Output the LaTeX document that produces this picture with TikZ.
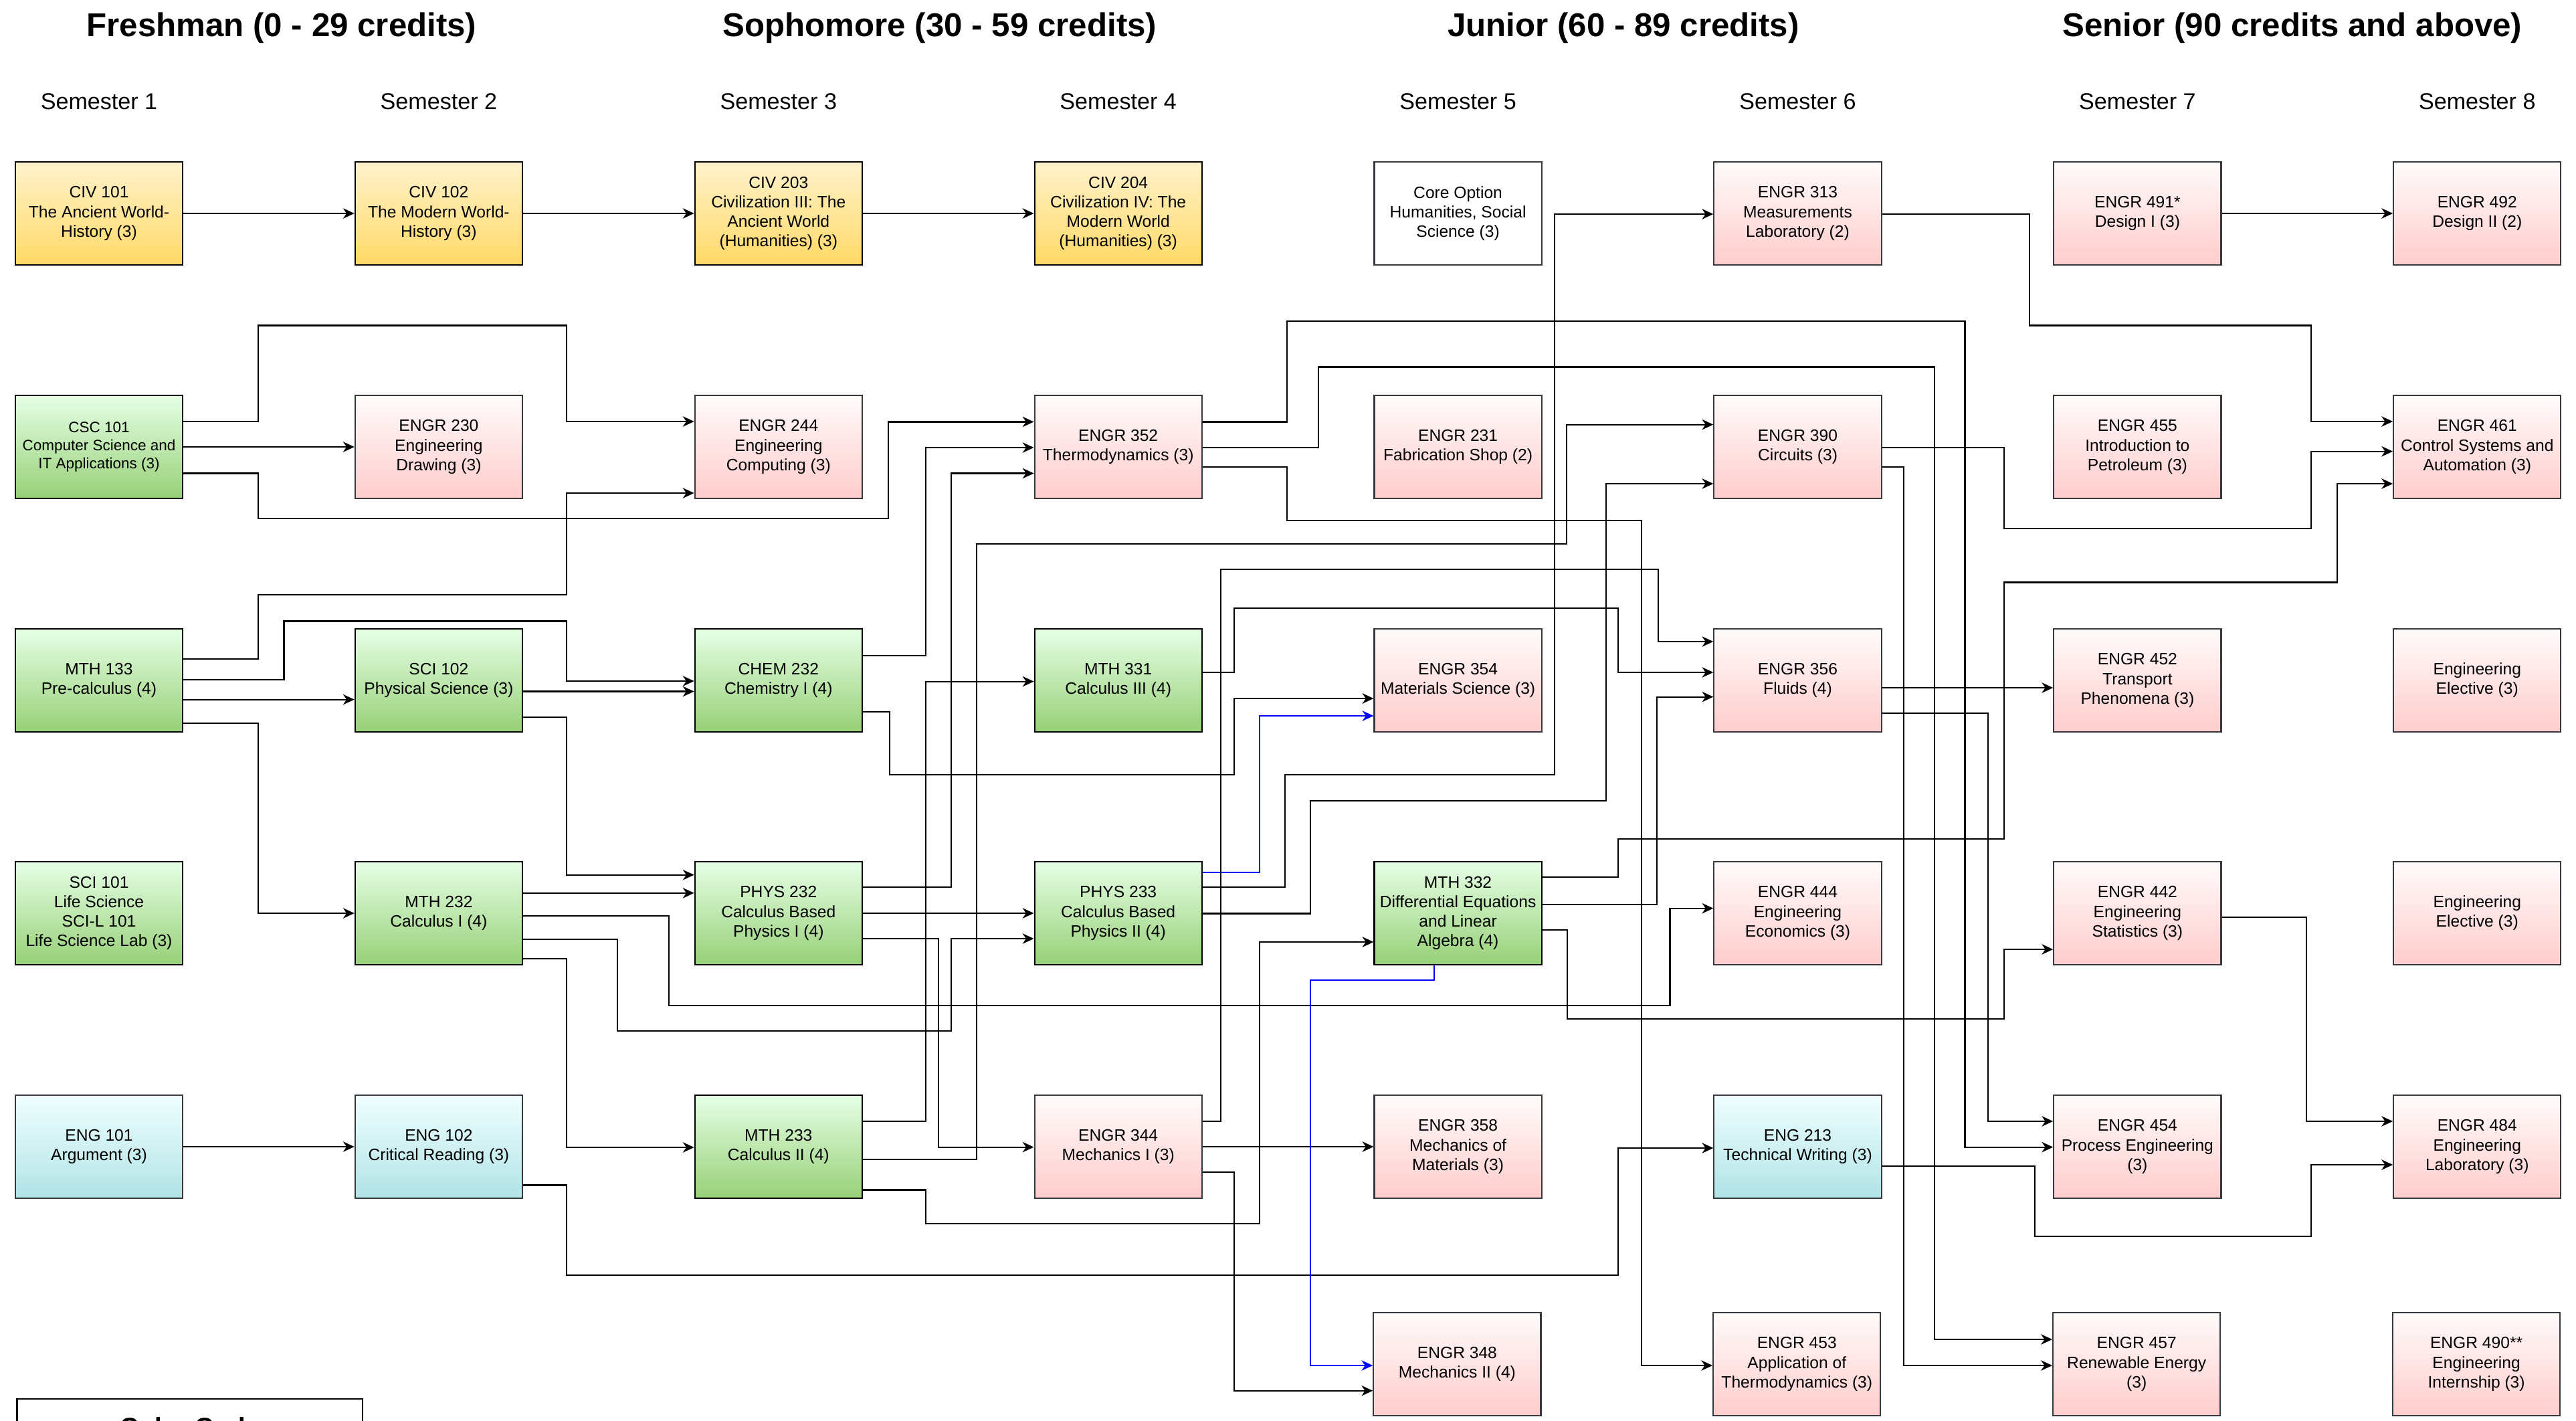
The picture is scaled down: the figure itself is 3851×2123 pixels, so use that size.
\documentclass[tikz,border=0pt]{standalone}
\usepackage{fontspec}
\setmainfont{Liberation Sans}
\usepackage{tikz}
\usetikzlibrary{arrows.meta,positioning}

\definecolor{civtop}{HTML}{FFF2CC}
\definecolor{civbot}{HTML}{FFD966}
\definecolor{scitop}{HTML}{E6FFE6}
\definecolor{scibot}{HTML}{97D077}
\definecolor{engrtop}{HTML}{FFFBFB}
\definecolor{engrbot}{HTML}{FFCCCC}
\definecolor{engtop}{HTML}{F0FFFF}
\definecolor{engbot}{HTML}{B0E3E6}
\definecolor{boxline}{HTML}{36393D}

\tikzset{
  course/.style={rectangle, draw=boxline, minimum width=2.5cm, minimum height=1.54cm,
                 inner sep=1pt, align=center, font=\fontsize{7}{8.3}\selectfont},
  civ/.style={course, draw=black, top color=civtop, bottom color=civbot},
  sci/.style={course, draw=black, top color=scitop, bottom color=scibot},
  engr/.style={course, top color=engrtop, bottom color=engrbot},
  eng/.style={course, top color=engtop, bottom color=engbot},
  core/.style={course, fill=white},
  year/.style={font=\fontsize{14}{17}\selectfont\bfseries},
  sem/.style={font=\fontsize{9.7}{11.6}\selectfont}
}

\begin{document}
\begin{tikzpicture}[->,>={Stealth[length=4.8pt,width=4.4pt,inset=1.5pt]},
                    line width=0.6pt,x=0.01cm,y=-0.01cm,node distance=5.076cm]
  \useasboundingbox (0,0) rectangle (3851,2123);
  \clip (0,0) rectangle (3851,2123);

  \node[year] (fresh)  at (421,41.5)  {Freshman (0 - 29 credits)};
  \node[year] (soph)   at (1405,41.5) {Sophomore (30 - 59 credits)};
  \node[year] (junior) at (2427,41.5) {Junior (60 - 89 credits)};
  \node[year] (senior) at (3427,41.5) {Senior (90 credits and above)};

  \node[sem] (S1) at (148,151.5) {Semester 1};
  \node[sem] (S2) [right of=S1] {Semester 2};
  \node[sem] (S3) [right of=S2] {Semester 3};
  \node[sem] (S4) [right of=S3] {Semester 4};
  \node[sem] (S5) [right of=S4] {Semester 5};
  \node[sem] (S6) [right of=S5] {Semester 6};
  \node[sem] (S7) [right of=S6] {Semester 7};
  \node[sem] (S8) [right of=S7] {Semester 8};

  \node[civ]  (CIV101) at (148,319)       {CIV 101\\The Ancient World-\\History (3)};
  \node[civ]  (CIV102) [right of=CIV101]  {CIV 102\\The Modern World-\\History (3)};
  \node[civ]  (CIV203) [right of=CIV102]  {CIV 203\\Civilization III: The\\Ancient World\\(Humanities) (3)};
  \node[civ]  (CIV204) [right of=CIV203]  {CIV 204\\Civilization IV: The\\Modern World\\(Humanities) (3)};
  \node[core] (CORE)   [right of=CIV204]  {Core Option\\Humanities, Social\\Science (3)};
  \node[engr] (ENGR313) [right of=CORE]   {ENGR 313\\Measurements\\Laboratory (2)};
  \node[engr] (ENGR491) [right of=ENGR313] {ENGR 491*\\Design I (3)};
  \node[engr] (ENGR492) [right of=ENGR491] {ENGR 492\\Design II (2)};

  \node[sci,font=\fontsize{6.4}{7.7}\selectfont] (CSC101) at (148,668)
                                           {CSC 101\\Computer Science and\\IT Applications (3)};
  \node[engr] (ENGR230) [right of=CSC101]  {ENGR 230\\Engineering\\Drawing (3)};
  \node[engr] (ENGR244) [right of=ENGR230] {ENGR 244\\Engineering\\Computing (3)};
  \node[engr] (ENGR352) [right of=ENGR244] {ENGR 352\\Thermodynamics (3)};
  \node[engr] (ENGR231) [right of=ENGR352] {ENGR 231\\Fabrication Shop (2)};
  \node[engr] (ENGR390) [right of=ENGR231] {ENGR 390\\Circuits (3)};
  \node[engr] (ENGR455) [right of=ENGR390] {ENGR 455\\Introduction to\\Petroleum (3)};
  \node[engr] (ENGR461) [right of=ENGR455] {ENGR 461\\Control Systems and\\Automation (3)};

  \node[sci]  (MTH133)  at (148,1017)      {MTH 133\\Pre-calculus (4)};
  \node[sci]  (SCI102)  [right of=MTH133]  {SCI 102\\Physical Science (3)};
  \node[sci]  (CHEM232) [right of=SCI102]  {CHEM 232\\Chemistry I (4)};
  \node[sci]  (MTH331)  [right of=CHEM232] {MTH 331\\Calculus III (4)};
  \node[engr] (ENGR354) [right of=MTH331]  {ENGR 354\\Materials Science (3)};
  \node[engr] (ENGR356) [right of=ENGR354] {ENGR 356\\Fluids (4)};
  \node[engr] (ENGR452) [right of=ENGR356] {ENGR 452\\Transport\\Phenomena (3)};
  \node[engr] (ELECA)   [right of=ENGR452] {Engineering\\Elective (3)};

  \node[sci]  (SCI101)  at (148,1365)      {SCI 101\\Life Science\\SCI-L 101\\Life Science Lab (3)};
  \node[sci]  (MTH232)  [right of=SCI101]  {MTH 232\\Calculus I (4)};
  \node[sci]  (PHYS232) [right of=MTH232]  {PHYS 232\\Calculus Based\\Physics I (4)};
  \node[sci]  (PHYS233) [right of=PHYS232] {PHYS 233\\Calculus Based\\Physics II (4)};
  \node[sci]  (MTH332)  [right of=PHYS233] {MTH 332\\Differential Equations\\and Linear\\Algebra (4)};
  \node[engr] (ENGR444) [right of=MTH332]  {ENGR 444\\Engineering\\Economics (3)};
  \node[engr] (ENGR442) [right of=ENGR444] {ENGR 442\\Engineering\\Statistics (3)};
  \node[engr] (ELECB)   [right of=ENGR442] {Engineering\\Elective (3)};

  \node[eng]  (ENG101)  at (148,1714)      {ENG 101\\Argument (3)};
  \node[eng]  (ENG102)  [right of=ENG101]  {ENG 102\\Critical Reading (3)};
  \node[sci]  (MTH233)  [right of=ENG102]  {MTH 233\\Calculus II (4)};
  \node[engr] (ENGR344) [right of=MTH233]  {ENGR 344\\Mechanics I (3)};
  \node[engr] (ENGR358) [right of=ENGR344] {ENGR 358\\Mechanics of\\Materials (3)};
  \node[eng]  (ENG213)  [right of=ENGR358] {ENG 213\\Technical Writing (3)};
  \node[engr] (ENGR454) [right of=ENG213]  {ENGR 454\\Process Engineering\\(3)};
  \node[engr] (ENGR484) [right of=ENGR454] {ENGR 484\\Engineering\\Laboratory (3)};

  \node[engr] (ENGR348) at (2178.4,2039)   {ENGR 348\\Mechanics II (4)};
  \node[engr] (ENGR453) [right of=ENGR348] {ENGR 453\\Application of\\Thermodynamics (3)};
  \node[engr] (ENGR457) [right of=ENGR453] {ENGR 457\\Renewable Energy\\(3)};
  \node[engr] (ENGR490) [right of=ENGR457] {ENGR 490**\\Engineering\\Internship (3)};

  \draw[-] (25.5,2091) rectangle (542,2400);
  \node[font=\fontsize{11}{13}\selectfont\bfseries,inner sep=0pt,anchor=north]
       (colorcode) at (284,2117) {Color Code};

  \path (CIV101) edge (CIV102)
        (CIV102) edge (CIV203)
        (CIV203) edge (CIV204)
        (ENGR491) edge (ENGR492)
        (CSC101) edge (ENGR230)
        (ENG101) edge (ENG102)
        (PHYS232) edge (PHYS233)
        (ENGR344) edge (ENGR358);

  \draw (CSC101.east |- 0,630) -| (386,486.5) -| (846.6,630) -- (ENGR244.west |- 0,630);
  \draw (CSC101.east |- 0,707.5) -| (386,774.6) -| (1328,630.5) -- (ENGR352.west |- 0,630.5);
  \draw (MTH133.east |- 0,985) -| (386,889) -| (846.6,737) -- (ENGR244.west |- 0,737);
  \draw (MTH133.east |- 0,1015.7) -| (424.5,928.5) -| (846.6,1018) -- (CHEM232.west |- 0,1018);
  \draw (MTH133.east |- 0,1045.6) -- (SCI102.west |- 0,1045.6);
  \draw (MTH133.east |- 0,1081) -| (386,1365) -- (MTH232.west);
  \draw (SCI102.east |- 0,1033.5) -- (CHEM232.west |- 0,1033.5);
  \draw (SCI102.east |- 0,1072) -| (846.6,1307.7) -- (PHYS232.west |- 0,1307.7);
  \draw (MTH232.east |- 0,1334.8) -- (PHYS232.west |- 0,1334.8);
  \draw (MTH232.east |- 0,1369) -| (1000,1503) -| (2496.5,1357.7) -- (ENGR444.west |- 0,1357.7);
  \draw (MTH232.east |- 0,1403.6) -| (923,1541) -| (1422,1403) -- (PHYS233.west |- 0,1403);
  \draw (MTH232.east |- 0,1433) -| (846.6,1715) -- (MTH233.west |- 0,1715);
  \draw (ENG102.east |- 0,1771.5) -| (846.6,1905.7) -| (2419,1716) -- (ENG213.west |- 0,1716);

  \draw (CHEM232.east |- 0,980) -| (1384,669) -- (ENGR352.west |- 0,669);
  \draw (CHEM232.east |- 0,1064) -| (1330,1158) -| (1845,1044) -- (ENGR354.west |- 0,1044);
  \draw (PHYS232.east |- 0,1326) -| (1422,707.5) -- (ENGR352.west |- 0,707.5);
  \draw (PHYS232.east |- 0,1403) -| (1403,1714.6) -- (ENGR344.west |- 0,1714.6);
  \draw (MTH233.east |- 0,1676) -| (1384,1018.6) -- (MTH331.west |- 0,1018.6);
  \draw (MTH233.east |- 0,1733) -| (1460,813) -| (2342,634.6) -- (ENGR390.west |- 0,634.6);
  \draw (MTH233.east |- 0,1778.5) -| (1384,1829) -| (1883,1408) -- (MTH332.west |- 0,1408);

  \draw (MTH331.east |- 0,1005) -| (1845,909) -| (2419,1005) -- (ENGR356.west |- 0,1005);
  \draw (ENGR352.east |- 0,630.5) -| (1924,479.6) -| (2937.5,1714.6) -- (ENGR454.west |- 0,1714.6);
  \draw (ENGR352.east |- 0,669) -| (1971,548.5) -| (2892,2002) -- (ENGR457.west |- 0,2002);
  \draw (ENGR352.east |- 0,698) -| (1924,778) -| (2454,2041) -- (ENGR453.west |- 0,2041);
  \draw (PHYS233.east |- 0,1326) -| (1921,1158) -| (2324,320) -- (ENGR313.west |- 0,320);
  \draw (PHYS233.east |- 0,1365.5) -| (1959,1196.6) -| (2401,723) -- (ENGR390.west |- 0,723);
  \draw[blue] (PHYS233.east |- 0,1303.6) -| (1883,1070) -- (ENGR354.west |- 0,1070);
  \draw[blue] (MTH332.south -| 2144,0) |- (1959,1465) |- (ENGR348.west |- 0,2041);
  \draw (ENGR344.east |- 0,1676) -| (1825,851) -| (2479,959) -- (ENGR356.west |- 0,959);
  \draw (ENGR344.east |- 0,1752) -| (1845,2078.7) -- (ENGR348.west |- 0,2078.7);

  \draw (MTH332.east |- 0,1311) -| (2419,1254) -| (2995.6,870.5) -| (3494,723) -- (ENGR461.west |- 0,723);
  \draw (MTH332.east |- 0,1352) -| (2477,1041.6) -- (ENGR356.west |- 0,1041.6);
  \draw (MTH332.east |- 0,1390) -| (2343,1523) -| (2995.6,1419) -- (ENGR442.west |- 0,1419);
  \draw (ENGR313.east |- 0,320) -| (3034,486.5) -| (3455,630) -- (ENGR461.west |- 0,630);
  \draw (ENGR390.east |- 0,669) -| (2995.6,789.6) -| (3455,674.7) -- (ENGR461.west |- 0,674.7);
  \draw (ENGR390.east |- 0,698) -| (2846,2041) -- (ENGR457.west |- 0,2041);
  \draw (ENGR356.east |- 0,1028) -- (ENGR452.west |- 0,1028);
  \draw (ENGR356.east |- 0,1066) -| (2972,1676) -- (ENGR454.west |- 0,1676);
  \draw (ENGR442.east |- 0,1371) -| (3448,1676) -- (ENGR484.west |- 0,1676);
  \draw (ENG213.east |- 0,1743) -| (3042,1848) -| (3455,1741) -- (ENGR484.west |- 0,1741);
\end{tikzpicture}
\end{document}
